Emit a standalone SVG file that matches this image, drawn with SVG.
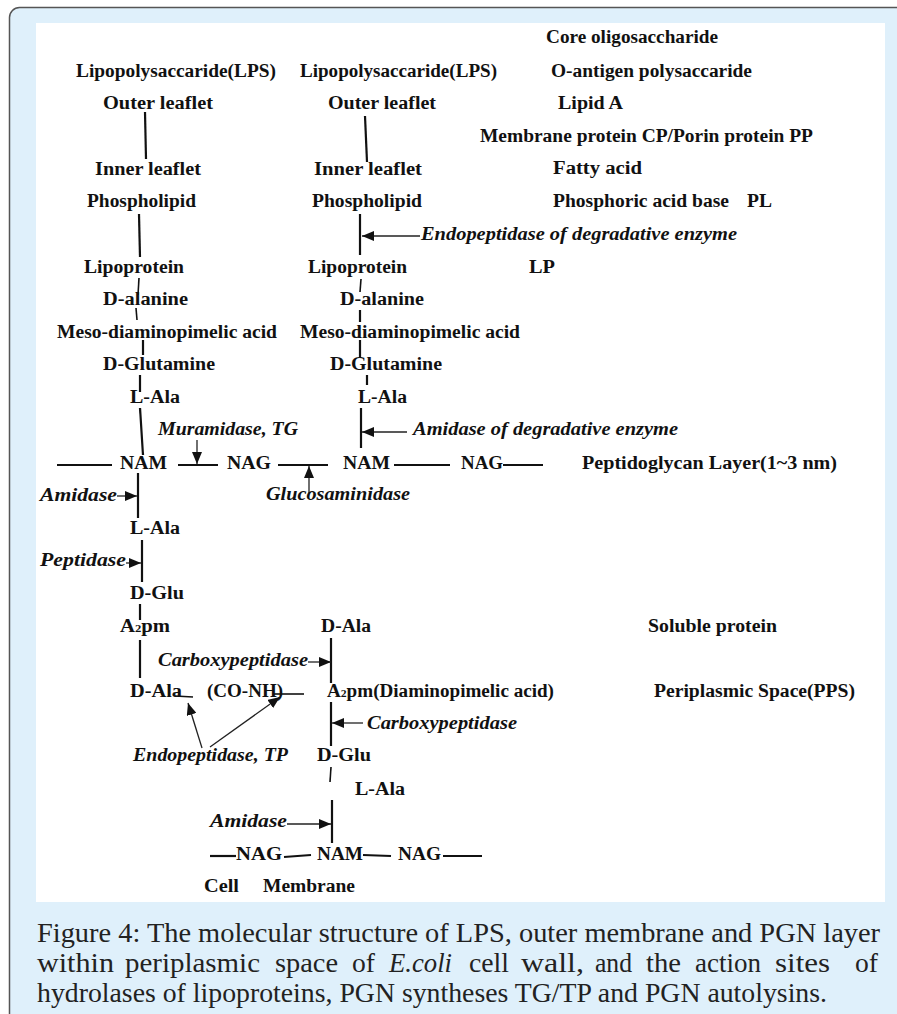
<svg xmlns="http://www.w3.org/2000/svg" width="897" height="1014" viewBox="0 0 897 1014">
<style>
.t{font-family:"Liberation Serif","DejaVu Serif",serif;font-weight:bold;font-size:18px;fill:#111}
.i{font-style:italic}
.c{font-family:"Liberation Serif","DejaVu Serif",serif;font-size:27px;fill:#222}
.k{stroke:#111;stroke-width:2.2;fill:none;stroke-linecap:butt}
.s{stroke:#111;stroke-width:1.6;fill:none}
.a{stroke:#222;stroke-width:1.3;fill:none;marker-end:url(#ah)}
.sub{font-size:11px}
</style>
<defs>
<marker id="ah" markerUnits="userSpaceOnUse" markerWidth="12" markerHeight="10" refX="12" refY="5" orient="auto">
<path d="M0,0 L12,5 L0,10 z" fill="#111"/>
</marker>
</defs>
<rect x="9.5" y="7.5" width="910" height="1030" rx="10" fill="#dff0fb" stroke="#555" stroke-width="1.5"/>
<rect x="36" y="23" width="849" height="879" fill="#fff"/>

<g id="connectors">
<line class="k" x1="145" y1="112" x2="146" y2="159"/>
<line class="k" x1="365" y1="116" x2="367" y2="162"/>
<line class="k" x1="139" y1="214" x2="140" y2="257"/>
<line class="k" x1="360" y1="214" x2="360" y2="255"/>
<line class="s" x1="139" y1="278" x2="138" y2="295"/>
<line class="s" x1="136" y1="308" x2="137" y2="320"/>
<line class="s" x1="361" y1="279" x2="360" y2="292"/>
<line class="k" x1="360" y1="310" x2="360" y2="322"/>
<line class="k" x1="143" y1="340" x2="143" y2="355"/>
<line class="k" x1="360" y1="340" x2="360" y2="358"/>
<line class="k" x1="140" y1="375" x2="140" y2="392"/>
<line class="k" x1="367" y1="375" x2="367" y2="385"/>
<line class="k" x1="140" y1="408" x2="143" y2="455"/>
<line class="k" x1="361" y1="408" x2="361" y2="448"/>
<line class="k" x1="57" y1="465" x2="112" y2="465"/>
<line class="k" x1="178" y1="465" x2="218" y2="465"/>
<line class="k" x1="278" y1="465" x2="328" y2="465"/>
<line class="k" x1="394" y1="465" x2="450" y2="465"/>
<line class="k" x1="503" y1="465" x2="543" y2="465"/>
<line class="k" x1="138" y1="473" x2="138" y2="518"/>
<line class="k" x1="142" y1="540" x2="142" y2="582"/>
<line class="k" x1="140" y1="604" x2="140" y2="620"/>
<line class="k" x1="140" y1="640" x2="140" y2="678"/>
<line class="k" x1="331" y1="638" x2="331" y2="683"/>
<line class="s" x1="175" y1="696" x2="193" y2="697"/>
<line class="s" x1="273" y1="694" x2="304" y2="694"/>
<line class="k" x1="331" y1="702" x2="331" y2="746"/>
<line class="s" x1="331" y1="767" x2="330" y2="782"/>
<line class="k" x1="332" y1="800" x2="332" y2="843"/>
<line class="k" x1="210" y1="856" x2="236" y2="856"/>
<line class="k" x1="284" y1="857" x2="311" y2="855"/>
<line class="k" x1="363" y1="855" x2="391" y2="856"/>
<line class="k" x1="443" y1="856" x2="482" y2="856"/>
<line class="a" x1="420" y1="236" x2="362" y2="236"/>
<line class="a" x1="197" y1="440" x2="197" y2="464"/>
<line class="a" x1="309" y1="493" x2="309" y2="466"/>
<line class="a" x1="407" y1="432" x2="362" y2="432"/>
<line class="a" x1="117" y1="496" x2="137" y2="496"/>
<line class="a" x1="126" y1="563" x2="141" y2="563"/>
<line class="a" x1="308" y1="662" x2="331" y2="662"/>
<line class="a" x1="363" y1="723" x2="332" y2="723"/>
<line class="a" x1="202" y1="748" x2="188" y2="703"/>
<line class="a" x1="210" y1="747" x2="280" y2="697"/>
<line class="a" x1="287" y1="824" x2="331" y2="824"/>
</g>

<g id="n-lps1"><text class="t" x="76" y="77" textLength="200" lengthAdjust="spacingAndGlyphs">Lipopolysaccaride(LPS)</text></g>
<g id="n-outer1"><text class="t" x="103" y="109" textLength="110" lengthAdjust="spacingAndGlyphs">Outer leaflet</text></g>
<g id="n-inner1"><text class="t" x="95" y="175" textLength="106" lengthAdjust="spacingAndGlyphs">Inner leaflet</text></g>
<g id="n-phos1"><text class="t" x="87" y="207" textLength="109" lengthAdjust="spacingAndGlyphs">Phospholipid</text></g>
<g id="n-lipo1"><text class="t" x="84" y="273" textLength="100" lengthAdjust="spacingAndGlyphs">Lipoprotein</text></g>
<g id="n-dalanine1"><text class="t" x="103" y="305" textLength="85" lengthAdjust="spacingAndGlyphs">D-alanine</text></g>
<g id="n-meso1"><text class="t" x="57" y="338" textLength="220" lengthAdjust="spacingAndGlyphs">Meso-diaminopimelic acid</text></g>
<g id="n-dglut1"><text class="t" x="103" y="370" textLength="112" lengthAdjust="spacingAndGlyphs">D-Glutamine</text></g>
<g id="n-lala1"><text class="t" x="130" y="403" textLength="50" lengthAdjust="spacingAndGlyphs">L-Ala</text></g>

<g id="n-lps2"><text class="t" x="300" y="77" textLength="197" lengthAdjust="spacingAndGlyphs">Lipopolysaccaride(LPS)</text></g>
<g id="n-outer2"><text class="t" x="328" y="109" textLength="108" lengthAdjust="spacingAndGlyphs">Outer leaflet</text></g>
<g id="n-inner2"><text class="t" x="314" y="175" textLength="108" lengthAdjust="spacingAndGlyphs">Inner leaflet</text></g>
<g id="n-phos2"><text class="t" x="312" y="207" textLength="110" lengthAdjust="spacingAndGlyphs">Phospholipid</text></g>
<g id="n-endo-deg"><text class="t i" x="421" y="240" textLength="316" lengthAdjust="spacingAndGlyphs">Endopeptidase of degradative enzyme</text></g>
<g id="n-lipo2"><text class="t" x="308" y="273" textLength="99" lengthAdjust="spacingAndGlyphs">Lipoprotein</text></g>
<g id="n-dalanine2"><text class="t" x="340" y="305" textLength="84" lengthAdjust="spacingAndGlyphs">D-alanine</text></g>
<g id="n-meso2"><text class="t" x="300" y="338" textLength="220" lengthAdjust="spacingAndGlyphs">Meso-diaminopimelic acid</text></g>
<g id="n-dglut2"><text class="t" x="330" y="370" textLength="112" lengthAdjust="spacingAndGlyphs">D-Glutamine</text></g>
<g id="n-lala2"><text class="t" x="358" y="403" textLength="49" lengthAdjust="spacingAndGlyphs">L-Ala</text></g>

<g id="n-core"><text class="t" x="546" y="43" textLength="172" lengthAdjust="spacingAndGlyphs">Core oligosaccharide</text></g>
<g id="n-oantigen"><text class="t" x="551" y="77" textLength="201" lengthAdjust="spacingAndGlyphs">O-antigen polysaccaride</text></g>
<g id="n-lipida"><text class="t" x="558" y="109" textLength="65" lengthAdjust="spacingAndGlyphs">Lipid A</text></g>
<g id="n-memprot"><text class="t" x="480" y="142" textLength="333" lengthAdjust="spacingAndGlyphs">Membrane protein CP/Porin protein PP</text></g>
<g id="n-fatty"><text class="t" x="553" y="174" textLength="89" lengthAdjust="spacingAndGlyphs">Fatty acid</text></g>
<g id="n-phosacid"><text class="t" x="553" y="207"><tspan textLength="176" lengthAdjust="spacingAndGlyphs">Phosphoric acid base</tspan> <tspan x="747" textLength="25" lengthAdjust="spacingAndGlyphs">PL</tspan></text></g>
<g id="n-lp"><text class="t" x="529" y="273" textLength="26" lengthAdjust="spacingAndGlyphs">LP</text></g>

<g id="n-muramidase"><text class="t i" x="158" y="435" textLength="140" lengthAdjust="spacingAndGlyphs">Muramidase, TG</text></g>
<g id="n-amidase-deg"><text class="t i" x="413" y="435" textLength="265" lengthAdjust="spacingAndGlyphs">Amidase of degradative enzyme</text></g>
<g id="n-nam1"><text class="t" x="120" y="469" textLength="47" lengthAdjust="spacingAndGlyphs">NAM</text></g>
<g id="n-nag1"><text class="t" x="227" y="469" textLength="44" lengthAdjust="spacingAndGlyphs">NAG</text></g>
<g id="n-nam2"><text class="t" x="343" y="469" textLength="47" lengthAdjust="spacingAndGlyphs">NAM</text></g>
<g id="n-nag2"><text class="t" x="461" y="469" textLength="42" lengthAdjust="spacingAndGlyphs">NAG</text></g>
<g id="n-pgn"><text class="t" x="582" y="469" textLength="255" lengthAdjust="spacingAndGlyphs">Peptidoglycan Layer(1~3 nm)</text></g>
<g id="n-glucos"><text class="t i" x="266" y="500" textLength="144" lengthAdjust="spacingAndGlyphs">Glucosaminidase</text></g>

<g id="n-amidase1"><text class="t i" x="40" y="501" textLength="77" lengthAdjust="spacingAndGlyphs">Amidase</text></g>
<g id="n-lala3"><text class="t" x="130" y="534" textLength="50" lengthAdjust="spacingAndGlyphs">L-Ala</text></g>
<g id="n-peptidase"><text class="t i" x="40" y="566" textLength="86" lengthAdjust="spacingAndGlyphs">Peptidase</text></g>
<g id="n-dglu1"><text class="t" x="130" y="599" textLength="54" lengthAdjust="spacingAndGlyphs">D-Glu</text></g>
<g id="n-a2pm1"><text class="t" x="120" y="632" textLength="50" lengthAdjust="spacingAndGlyphs">A<tspan class="sub">2</tspan>pm</text></g>
<g id="n-dala1"><text class="t" x="321" y="632" textLength="50" lengthAdjust="spacingAndGlyphs">D-Ala</text></g>
<g id="n-soluble"><text class="t" x="648" y="632" textLength="129" lengthAdjust="spacingAndGlyphs">Soluble protein</text></g>
<g id="n-carboxy1"><text class="t i" x="158" y="666" textLength="150" lengthAdjust="spacingAndGlyphs">Carboxypeptidase</text></g>
<g id="n-dala2"><text class="t" x="130" y="697" textLength="52" lengthAdjust="spacingAndGlyphs">D-Ala</text></g>
<g id="n-conh"><text class="t" x="207" y="697" textLength="76" lengthAdjust="spacingAndGlyphs">(CO-NH)</text></g>
<g id="n-a2pm2"><text class="t" x="327" y="697" textLength="227" lengthAdjust="spacingAndGlyphs">A<tspan class="sub">2</tspan>pm(Diaminopimelic acid)</text></g>
<g id="n-pps"><text class="t" x="654" y="697" textLength="201" lengthAdjust="spacingAndGlyphs">Periplasmic Space(PPS)</text></g>
<g id="n-carboxy2"><text class="t i" x="367" y="729" textLength="150" lengthAdjust="spacingAndGlyphs">Carboxypeptidase</text></g>
<g id="n-endotp"><text class="t i" x="133" y="761" textLength="155" lengthAdjust="spacingAndGlyphs">Endopeptidase, TP</text></g>
<g id="n-dglu2"><text class="t" x="317" y="761" textLength="54" lengthAdjust="spacingAndGlyphs">D-Glu</text></g>
<g id="n-lala4"><text class="t" x="355" y="795" textLength="50" lengthAdjust="spacingAndGlyphs">L-Ala</text></g>
<g id="n-amidase2"><text class="t i" x="210" y="827" textLength="77" lengthAdjust="spacingAndGlyphs">Amidase</text></g>
<g id="n-nag3"><text class="t" x="236" y="860" textLength="46" lengthAdjust="spacingAndGlyphs">NAG</text></g>
<g id="n-nam3"><text class="t" x="317" y="860" textLength="46" lengthAdjust="spacingAndGlyphs">NAM</text></g>
<g id="n-nag4"><text class="t" x="398" y="860" textLength="43" lengthAdjust="spacingAndGlyphs">NAG</text></g>
<g id="n-cellmem"><text class="t" x="204" y="892"><tspan textLength="35" lengthAdjust="spacingAndGlyphs">Cell</tspan> <tspan x="263" textLength="92" lengthAdjust="spacingAndGlyphs">Membrane</tspan></text></g>

<g id="caption">
<text class="c" x="37" y="942" textLength="843" lengthAdjust="spacingAndGlyphs">Figure 4: The molecular structure of LPS, outer membrane and PGN layer</text>
<text class="c" y="972"><tspan x="37" textLength="77" lengthAdjust="spacingAndGlyphs">within</tspan> <tspan x="125" textLength="135" lengthAdjust="spacingAndGlyphs">periplasmic</tspan> <tspan x="275" textLength="63" lengthAdjust="spacingAndGlyphs">space</tspan> <tspan x="352" textLength="23" lengthAdjust="spacingAndGlyphs">of</tspan> <tspan x="389" font-style="italic" textLength="63" lengthAdjust="spacingAndGlyphs">E.coli</tspan> <tspan x="469" textLength="40" lengthAdjust="spacingAndGlyphs">cell</tspan> <tspan x="521" textLength="63" lengthAdjust="spacingAndGlyphs">wall,</tspan> <tspan x="595" textLength="37" lengthAdjust="spacingAndGlyphs">and</tspan> <tspan x="646" textLength="35" lengthAdjust="spacingAndGlyphs">the</tspan> <tspan x="695" textLength="66" lengthAdjust="spacingAndGlyphs">action</tspan> <tspan x="775" textLength="55" lengthAdjust="spacingAndGlyphs">sites</tspan> <tspan x="855" textLength="23" lengthAdjust="spacingAndGlyphs">of</tspan></text>
<text class="c" x="37" y="1002" textLength="790" lengthAdjust="spacingAndGlyphs">hydrolases of lipoproteins, PGN syntheses TG/TP and PGN autolysins.</text>
</g>
</svg>
